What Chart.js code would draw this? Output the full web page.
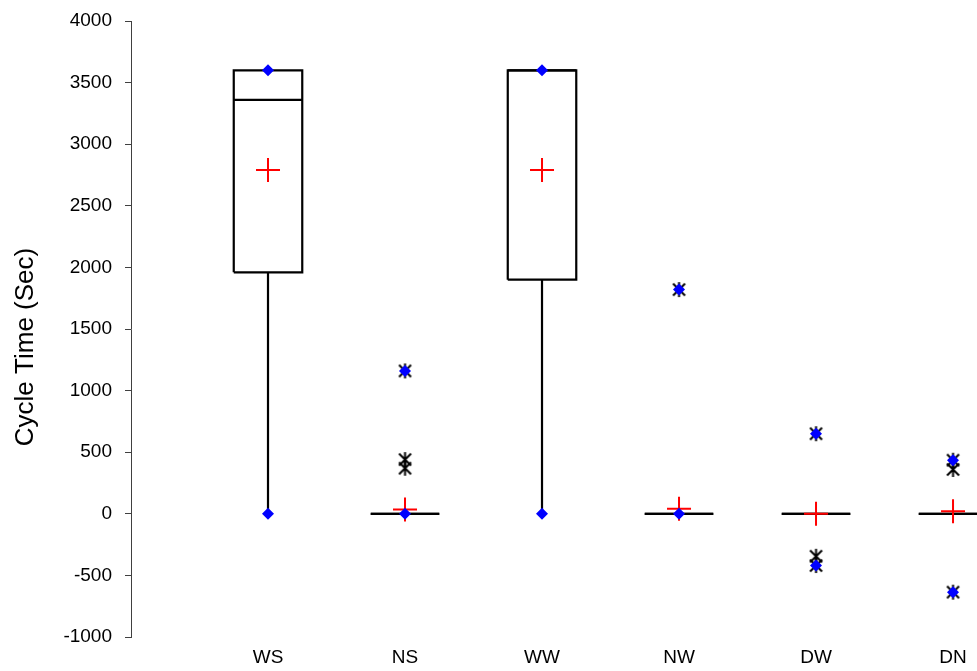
<!DOCTYPE html>
<html>
<head>
<meta charset="utf-8">
<script src="https://cdn.jsdelivr.net/npm/chart.js@4.4.1/dist/chart.umd.min.js"></script>
<style>
  html, body { margin: 0; padding: 0; background: #ffffff; }
  canvas { display: block; }
</style>
</head>
<body>
<canvas id="c" width="977" height="671"></canvas>
<script>
// ---- Data ----
const categories = ['WS', 'NS', 'WW', 'NW', 'DW', 'DN'];
const q1Values = [1960, 0, 1900, 0, 0, 0];
const medianValues = [3360, 0, 3600, 0, 0, 0];
const q3Values = [3600, 0, 3600, 0, 0, 0];
const whiskerLow = [0, 0, 0, 0, 0, 0];
const whiskerHigh = [3600, 0, 3600, 0, 0, 0];
const meanValues = [2790, 35, 2790, 40, 0, 20];
const minValues = [0, 0, 0, 0, -420, -636];
const maxValues = [3600, 1160, 3600, 1820, 650, 435];
const outlierValues = [[], [1160, 440, 370], [], [1820], [650, -345, -420], [435, 360, -636]];
const yTickValues = [-1000, -500, 0, 500, 1000, 1500, 2000, 2500, 3000, 3500, 4000];
const yTitle = 'Cycle Time (Sec)';

// ---- Styling ----
const FONT = "'Liberation Sans', Arial, Helvetica, sans-serif";
const BOX_HALF = 0.25;

// asterisk marker (X plus vertical bar)
function makeAsterisk() {
  const c = document.createElement('canvas');
  c.width = 15; c.height = 17;
  const g = c.getContext('2d');
  g.strokeStyle = '#000000';
  g.lineWidth = 2;
  g.beginPath();
  g.moveTo(7.5, 1); g.lineTo(7.5, 16);
  g.moveTo(1.5, 2.5); g.lineTo(13.5, 14.5);
  g.moveTo(13.5, 2.5); g.lineTo(1.5, 14.5);
  g.stroke();
  return c;
}
const asterisk = makeAsterisk();

const datasets = [];

// diamonds at min / max (drawn on top)
const diamondData = [];
categories.forEach((c, i) => {
  diamondData.push({ x: i + 1, y: minValues[i] });
  diamondData.push({ x: i + 1, y: maxValues[i] });
});
datasets.push({
  type: 'scatter', data: diamondData, pointStyle: 'rectRot', pointRadius: 6,
  backgroundColor: '#0000FF', borderColor: '#0000FF', borderWidth: 0
});

// means as red crosses
datasets.push({
  type: 'scatter', data: meanValues.map((v, i) => ({ x: i + 1, y: v })),
  pointStyle: 'cross', pointRadius: 12, borderColor: '#FF0000', borderWidth: 2,
  backgroundColor: '#FF0000'
});

// outliers as asterisks
const outData = [];
outlierValues.forEach((arr, i) => arr.forEach(v => outData.push({ x: i + 1, y: v })));
datasets.push({
  type: 'scatter', data: outData, pointStyle: asterisk, pointRadius: 7
});

// boxes, medians, whiskers
function lineSet(points) {
  return {
    type: 'scatter', data: points, showLine: true, pointRadius: 0,
    borderColor: '#000000', borderWidth: 2.2, fill: false, tension: 0
  };
}
categories.forEach((c, i) => {
  const x = i + 1;
  datasets.push(lineSet([
    { x: x - BOX_HALF, y: q1Values[i] }, { x: x + BOX_HALF, y: q1Values[i] },
    { x: x + BOX_HALF, y: q3Values[i] }, { x: x - BOX_HALF, y: q3Values[i] },
    { x: x - BOX_HALF, y: q1Values[i] }
  ]));
  datasets.push(lineSet([
    { x: x - BOX_HALF, y: medianValues[i] }, { x: x + BOX_HALF, y: medianValues[i] }
  ]));
  datasets.push(lineSet([{ x: x, y: q1Values[i] }, { x: x, y: whiskerLow[i] }]));
  datasets.push(lineSet([{ x: x, y: q3Values[i] }, { x: x, y: whiskerHigh[i] }]));
});

const yTitlePlugin = {
  id: 'yTitle',
  afterDraw(chart) {
    const ctx = chart.ctx;
    const area = chart.chartArea;
    ctx.save();
    ctx.translate(26, (area.top + area.bottom) / 2 + 18);
    ctx.rotate(-Math.PI / 2);
    ctx.font = '26px ' + FONT;
    ctx.fillStyle = '#000000';
    ctx.textAlign = 'center';
    ctx.textBaseline = 'middle';
    ctx.fillText(yTitle, 0, 0);
    ctx.restore();
  }
};

new Chart(document.getElementById('c'), {
  type: 'scatter',
  data: { datasets },
  plugins: [yTitlePlugin],
  options: {
    responsive: false,
    animation: false,
    events: [],
    devicePixelRatio: 1,
    layout: { autoPadding: false, padding: { top: 21, left: 0, right: 0, bottom: 0 } },
    plugins: { legend: { display: false }, tooltip: { enabled: false } },
    scales: {
      x: {
        type: 'linear',
        min: 0,
        max: 6.175,
        grid: { display: false, drawTicks: false },
        border: { display: false },
        afterBuildTicks(scale) {
          scale.ticks = categories.map((c, i) => ({ value: i + 1 }));
        },
        afterFit(scale) {
          scale.height = 34;
          scale.paddingLeft = 0;
          scale.paddingRight = 0;
        },
        ticks: {
          autoSkip: false,
          maxRotation: 0,
          padding: 9,
          color: '#000000',
          font: { family: FONT, size: 19 },
          callback: (v) => categories[Math.round(v) - 1] || ''
        }
      },
      y: {
        type: 'linear',
        min: -1000,
        max: 4000,
        afterBuildTicks(scale) {
          scale.ticks = yTickValues.map(v => ({ value: v }));
        },
        afterFit(scale) {
          scale.width = 131;
          scale.paddingTop = 0;
          scale.paddingBottom = 0;
        },
        grid: {
          display: true, drawOnChartArea: false, drawTicks: true,
          tickLength: 6, color: '#404040', lineWidth: 1
        },
        border: { display: true, color: '#404040', width: 1 },
        ticks: {
          padding: 13,
          color: '#000000',
          font: { family: FONT, size: 19 },
          callback: (v) => String(v)
        }
      }
    }
  }
});
</script>
</body>
</html>
